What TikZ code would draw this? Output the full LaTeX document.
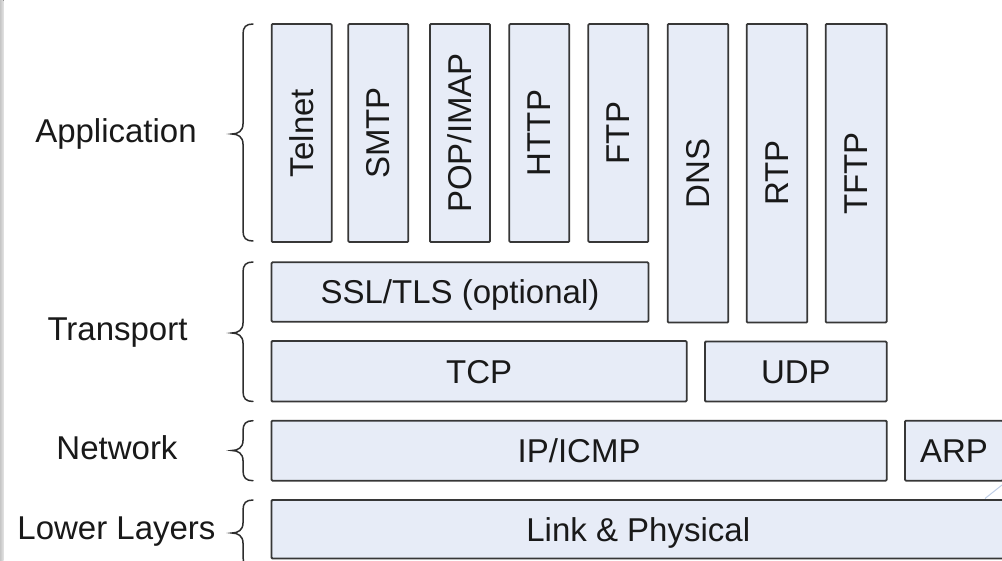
\documentclass[tikz,border=0pt]{standalone}
\usepackage{fontspec}
\setmainfont{Liberation Sans}
\usepackage{graphicx}
\definecolor{boxfill}{RGB}{231,236,247}
\definecolor{boxline}{RGB}{55,55,55}
\definecolor{txt}{RGB}{25,25,25}
\definecolor{brcol}{RGB}{45,45,45}
\definecolor{strip}{RGB}{200,200,200}
\definecolor{faint}{RGB}{190,205,230}
\tikzset{
  lbox/.style={draw=boxline, fill=boxfill, line width=1.8pt, rounded corners=1pt,
    inner sep=0pt, text=txt, font=\fontsize{33}{40}\selectfont},
  htext/.style={text height=23.6pt, text depth=0pt},
  lbl/.style={inner sep=0pt, text=txt, font=\fontsize{33}{40}\selectfont,
    text height=23.6pt, text depth=0pt},
  brc/.style={draw=brcol, line width=1.5pt, line cap=round}
}
\newcommand{\layerbox}[7][]{%
  \node[lbox, #1, minimum width={#4-#2}, minimum height={#5-#3}] (#6)
    at ({(#2+#4)/2},{(#3+#5)/2}) {#7};}
\newcommand{\layerbrace}[3]{%
  \draw[brc] (253,#1) .. controls (246,#1) and (243,#1+3) .. (243,#1+10)
    -- (243,#3-10) .. controls (243,#3-3) and (238,#3) .. (232,#3)
    .. controls (238,#3) and (243,#3+3) .. (243,#3+10)
    -- (243,#2-10) .. controls (243,#2-3) and (246,#2) .. (253,#2);}
\begin{document}
\begin{tikzpicture}[x=1pt,y=-1pt]
\useasboundingbox (0,0) rectangle (1002,560);
\fill[white] (0,0) rectangle (1002,560);
\fill[left color=strip!80!black!60, right color=strip!50] (0,0) rectangle (3.5,560);

% application protocols
\layerbox{271.7}{24}{331.7}{242}{telnet}{\rotatebox{90}{Telnet}}
\layerbox{348.3}{24}{408.3}{242}{smtp}{\rotatebox{90}{SMTP}}
\layerbox{430}{24}{490}{242}{pop}{\rotatebox{90}{POP/IMAP}}
\layerbox{509.3}{24}{569.3}{242}{http}{\rotatebox{90}{HTTP}}
\layerbox{588.3}{24}{648.3}{242}{ftp}{\rotatebox{90}{FTP}}
\layerbox{667.7}{24}{728.3}{322.5}{dns}{\rotatebox{90}{DNS}}
\layerbox{746.7}{24}{807.3}{322.5}{rtp}{\rotatebox{90}{RTP}}
\layerbox{825.7}{24}{886.7}{322.5}{tftp}{\rotatebox{90}{TFTP}}

% transport
\layerbox[htext]{271.5}{262.3}{648.5}{321.7}{ssl}{SSL/TLS (optional)}
\layerbox[htext]{271.5}{341}{686.7}{401.5}{tcp}{TCP}
\layerbox[htext]{705}{341.5}{886.7}{401.5}{udp}{UDP}

% network
\layerbox[htext]{271.5}{420.7}{886.7}{480.7}{ip}{IP/ICMP}
\layerbox[htext]{905}{420.7}{1003}{480.7}{arp}{ARP}

% lower
\layerbox[htext]{271.5}{500}{1005}{558.5}{link}{Link \& Physical}

\draw[faint, line width=1pt] (985,498.5) -- (1002,485);

% braces
\layerbrace{24}{241}{134}
\layerbrace{262}{401.5}{333}
\layerbrace{420.7}{480.7}{450.5}
\layerbrace{500}{567}{533}

% labels
\node[lbl] (lapp) at (116,131) {Application};
\node[lbl] (ltra) at (117.5,329) {Transport};
\node[lbl] (lnet) at (117,448) {Network};
\node[lbl] (llow) at (116.5,528) {Lower Layers};
\end{tikzpicture}
\end{document}
